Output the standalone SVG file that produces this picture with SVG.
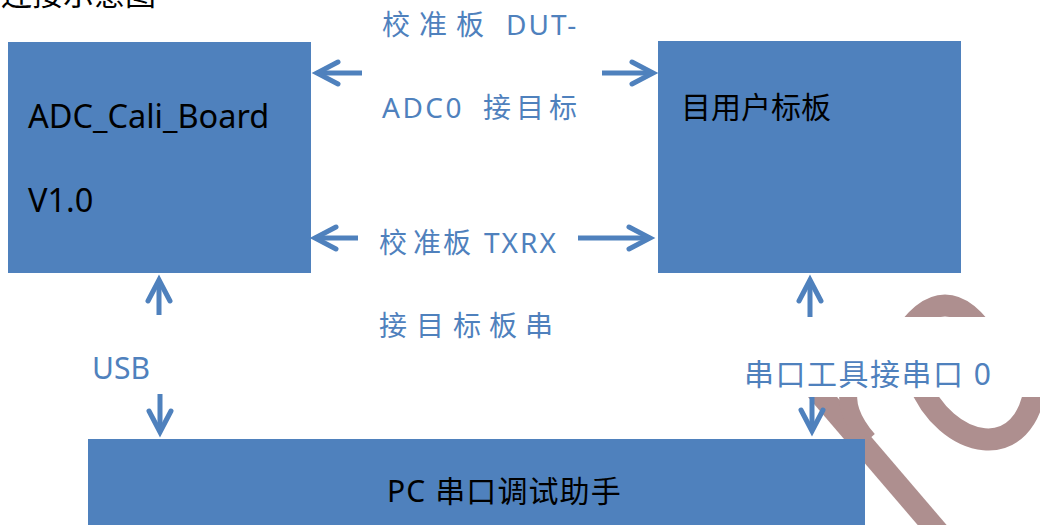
<svg xmlns="http://www.w3.org/2000/svg" width="1040" height="525" viewBox="0 0 1040 525">
<style>
.box{fill:#4f81bd}
.nt{font-family:"Noto Sans","Noto Sans CJK SC",sans-serif;fill:#000}
.lb{font-family:"Noto Sans","Noto Sans CJK SC",sans-serif;fill:#4f81bd}
.cn{fill:none;stroke:#4f81bd;stroke-width:5;marker-end:url(#ah)}
.doodle{fill:none;stroke:#ae8f8f}
</style>
<defs>
<marker id="ah" viewBox="0 0 34 30" refX="25" refY="15" markerWidth="34" markerHeight="30" markerUnits="userSpaceOnUse" orient="auto">
<path d="M4,4 L25,15 L4,26" fill="none" stroke="#4f81bd" stroke-width="5" stroke-linecap="round" stroke-linejoin="miter"/>
</marker>
</defs>
<rect width="1040" height="525" fill="#fff"/>
<text class="nt" x="1" y="5" font-size="31">连接示意图</text>
<g id="doodle">
<path class="doodle" stroke-width="22" d="M898 345 Q945 266 992 345"/>
<path class="doodle" stroke-width="22" d="M918 380 C945 450 1028 468 1036 380"/>
<path class="doodle" stroke-width="22" d="M808 380 L945 540"/>
<path class="doodle" stroke-width="18" d="M850 385 Q842 410 868 440"/>
<rect x="730" y="317" width="310" height="80" fill="#fff"/>
</g>
<g id="node-adc">
<rect class="box" x="8" y="42" width="303" height="231"/>
<text class="nt" x="28" y="128" font-size="32.5">ADC_Cali_Board</text>
<text class="nt" x="28" y="212" font-size="32.5">V1.0</text>
</g>
<g id="node-user">
<rect class="box" x="658" y="41" width="303" height="232"/>
<text class="nt" x="681" y="118" font-size="30">目用户标板</text>
</g>
<g id="node-pc">
<rect class="box" x="88" y="439" width="777" height="90"/>
<text class="nt" x="387" y="502" font-size="30" letter-spacing="1.1">PC 串口调试助手</text>
</g>
<g id="connectors">
<line class="cn" x1="362" y1="73" x2="317" y2="73"/>
<line class="cn" x1="602" y1="73" x2="653" y2="73"/>
<line class="cn" x1="358" y1="238" x2="315" y2="238"/>
<line class="cn" x1="578" y1="238" x2="650" y2="238"/>
<line class="cn" x1="159" y1="315" x2="159" y2="280"/>
<line class="cn" x1="160" y1="394" x2="160" y2="432"/>
<line class="cn" x1="810" y1="317" x2="810" y2="280"/>
<line class="cn" x1="812" y1="397" x2="812" y2="431"/>
</g>
<g id="labels">
<text class="lb" y="35" font-size="28"><tspan x="382 419 456">校准板</tspan><tspan x="506" letter-spacing="2">DUT-</tspan></text>
<text class="lb" y="118" font-size="28"><tspan x="382" letter-spacing="2.5">ADC0</tspan><tspan x="483 516 549">接目标</tspan></text>
<text class="lb" y="253" font-size="28"><tspan x="379 413 443">校准板</tspan><tspan x="484" letter-spacing="2">TXRX</tspan></text>
<text class="lb" y="336" font-size="28"><tspan x="379 416 453 489 525">接目标板串</tspan></text>
<text class="lb" x="92" y="379" font-size="30">USB</text>
<text class="lb" x="744" y="385" font-size="30" letter-spacing="1.5">串口工具接串口 0</text>
</g>
</svg>
